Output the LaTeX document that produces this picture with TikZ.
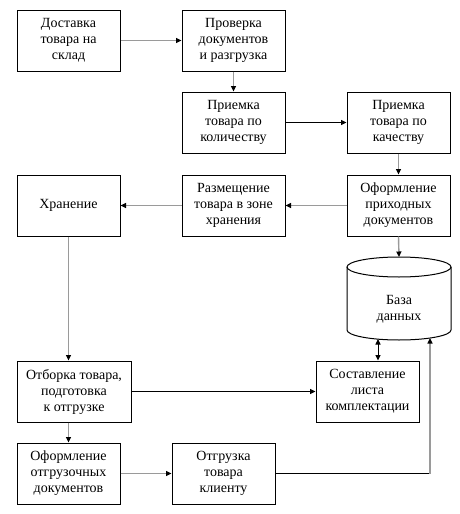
\documentclass[tikz,border=0pt]{standalone}
\usepackage{fontspec}
\setmainfont{Liberation Serif}
\usetikzlibrary{arrows.meta}
\definecolor{lgray}{HTML}{9A9A9A}
\begin{document}
\begin{tikzpicture}[x=1pt,y=1pt,
  box/.style={draw=black,line width=1pt,minimum width=103pt,minimum height=61pt,inner sep=0pt,align=center,font=\fontsize{14}{16}\selectfont},
  tip/.style={-{Triangle[length=5.5pt,width=5pt,color=black]}},
  ga/.style={lgray,line width=1.4pt,tip},
  ba/.style={black,line width=1pt,tip}]
\useasboundingbox (0,0) rectangle (460,-514);
\node[box] (b1) at (68.5,-40.5) {Доставка\\товара на\\склад};
\node[box] (b2) at (233.5,-40.5) {Проверка\\документов\\и разгрузка};
\node[box] (b3) at (233.5,-122.5) {Приемка\\товара по\\количеству};
\node[box] (b4) at (398.5,-122.5) {Приемка\\товара по\\качеству};
\node[box] (b5) at (398.5,-205.5) {Оформление\\приходных\\документов};
\node[box] (b6) at (233.5,-205.5) {Размещение\\товара в зоне\\хранения};
\node[box] (b7) at (68.5,-205.5) {Хранение};
\node[box,minimum width=114pt] (b8) at (74,-391.5) {Отборка товара,\\подготовка\\к отгрузке};
\node[box] (b9) at (367.5,-391.5) {Составление\\листа\\комплектации};
\node[box] (b10) at (68.5,-473.5) {Оформление\\отгрузочных\\документов};
\node[box] (b11) at (223.5,-473.5) {Отгрузка\\товара\\клиенту};
% database cylinder
\draw[line width=1pt] (347,-267) -- (347,-330) arc[start angle=180,end angle=360,x radius=52,y radius=10] -- (451,-267);
\draw[line width=1pt] (399,-267) ellipse[x radius=52,y radius=10];
\node[align=center,font=\fontsize{14}{16}\selectfont] (db) at (399,-309.5) {База\\данных};
\coordinate (dbtop) at (399,-257);
\coordinate (dbleft) at (378,-339);
\coordinate (dbright) at (430,-338);
% connectors
\draw[ga] (b1.east) -- (b2.west);
\draw[ga] (b2.south) -- (b3.north);
\draw[ba] (b3.east) -- (b4.west);
\draw[ga] (b4.south) -- (b5.north);
\draw[ga] (b5.west) -- (b6.east);
\draw[ga] (b6.west) -- (b7.east);
\draw[ga] (b5.south) -- (dbtop);
\draw[ga] (b7.south) -- (b7.south |- b8.north);
\draw[ba] (b8.east) -- (b9.west);
\draw[ga] (b10.north |- b8.south) -- (b10.north);
\draw[ga] (b10.east) -- (b11.west);
\draw[black,line width=1pt,{Triangle[length=5.5pt,width=5pt]}-{Triangle[length=5.5pt,width=5pt]}] (dbleft |- b9.north) -- (dbleft);
\draw[black,line width=1pt] (b11.east) -- (dbright |- b11.east);
\draw[ga] (dbright |- b11.east) -- (dbright);
\end{tikzpicture}
\end{document}
